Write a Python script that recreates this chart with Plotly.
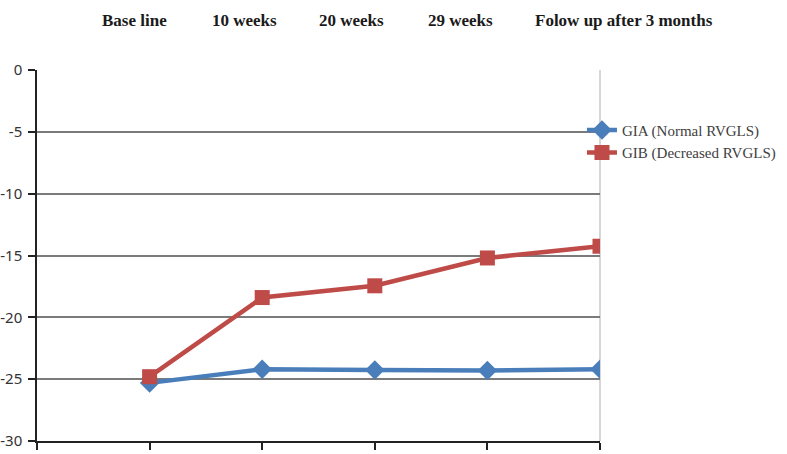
import plotly.graph_objects as go

categories = ["Base line", "10 weeks", "20 weeks", "29 weeks", "Folow up after 3 months"]
x_pos = [1, 2, 3, 4, 5]
gia = [-25.3, -24.2, -24.25, -24.3, -24.2]
gib = [-24.8, -18.4, -17.45, -15.2, -14.25]
header_x = [0.174, 0.369, 0.558, 0.753, 1.043]
y_ticks = [0, -5, -10, -15, -20, -25, -30]
y_ticktext = ["0", "-5", "-10", "-15", "-20", "-25", "-30"]

fig = go.Figure()
fig.add_trace(go.Scatter(
    x=x_pos, y=gia, mode="lines+markers", name="GIA (Normal RVGLS)",
    line=dict(color="#4a7ebb", width=4.5),
    marker=dict(symbol="diamond", size=15, color="#4a7ebb"),
))
fig.add_trace(go.Scatter(
    x=x_pos, y=gib, mode="lines+markers", name="GIB (Decreased RVGLS)",
    line=dict(color="#be4b48", width=4.5),
    marker=dict(symbol="square", size=15, color="#be4b48"),
))

for lab, hx in zip(categories, header_x):
    fig.add_annotation(
        x=hx, y=1.0, xref="paper", yref="paper", yshift=50,
        xanchor="center", yanchor="middle",
        text="<b>%s</b>" % lab, showarrow=False,
        font=dict(family="Liberation Serif", size=17, color="#1a1a1a"),
    )

fig.add_shape(type="line", xref="paper", yref="paper", x0=1, x1=1, y0=0, y1=1,
              line=dict(color="#c8c8c8", width=1.5), layer="below")

fig.update_layout(
    width=787, height=454,
    margin=dict(l=37, r=187, t=70, b=13, autoexpand=False),
    paper_bgcolor="white", plot_bgcolor="white",
    showlegend=True,
    legend=dict(x=0.968, y=0.882, xanchor="left", yanchor="top",
                font=dict(family="Liberation Serif", size=15, color="#404040"),
                bgcolor="rgba(0,0,0,0)", tracegroupgap=0, itemwidth=30),
    xaxis=dict(range=[0, 5], tickvals=[0, 1, 2, 3, 4, 5], showticklabels=False,
               ticks="outside", ticklen=7, tickcolor="#222", tickwidth=1.5,
               showgrid=False, showline=True, linecolor="#222", linewidth=1.5,
               zeroline=False, fixedrange=True, automargin=False),
    yaxis=dict(range=[-30, 0], tickvals=y_ticks, ticktext=y_ticktext,
               ticks="outside", ticklen=7,
               tickcolor="#222", tickwidth=1.5, showline=True, linecolor="#222",
               linewidth=1.5, showgrid=True, gridcolor="#7a7a7a", gridwidth=1.5,
               zeroline=False, ticklabelstandoff=3, automargin=False,
               tickfont=dict(family="Noto Sans", size=15, color="#333")),
)

fig.write_html("out.html", config={"displayModeBar": False},
               post_script="document.body.style.margin='0';")
